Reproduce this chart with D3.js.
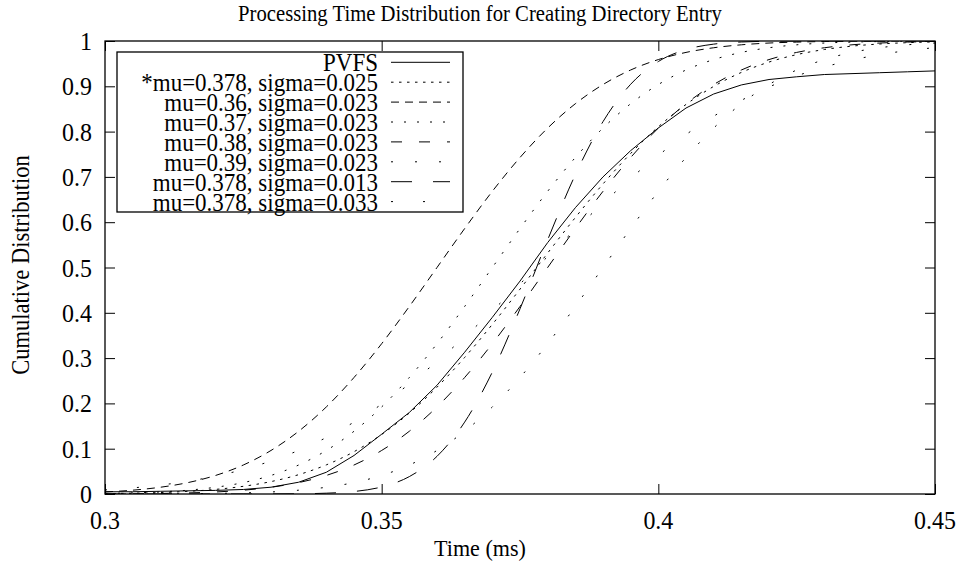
<!DOCTYPE html>
<html>
<head>
<meta charset="utf-8">
<script src="https://cdn.jsdelivr.net/npm/d3@7"></script>
<style>
  body { margin: 0; background: #fff; }
</style>
</head>
<body>
<div id="chart"></div>
<script>
// sample points on the time axis (ms)
var times = [0.300, 0.305, 0.310, 0.315, 0.320, 0.325, 0.330, 0.335, 0.340, 0.345,
             0.350, 0.355, 0.360, 0.365, 0.370, 0.375, 0.380, 0.385, 0.390, 0.395,
             0.400, 0.405, 0.410, 0.415, 0.420, 0.425, 0.430, 0.435, 0.440, 0.445, 0.450];

// measured PVFS distribution
var pvfs = [0.005, 0.005, 0.006, 0.007, 0.008, 0.010, 0.015, 0.026, 0.048, 0.085,
            0.132, 0.180, 0.240, 0.313, 0.390, 0.470, 0.555, 0.632, 0.700, 0.758,
            0.808, 0.852, 0.883, 0.903, 0.915, 0.921, 0.926, 0.928, 0.930, 0.932, 0.934];

// fitted curves
var fit378_025 = [0.0009, 0.0018, 0.0033, 0.0059, 0.0102, 0.0170, 0.0274, 0.0427, 0.0643, 0.0934,
                  0.1314, 0.1788, 0.2358, 0.3015, 0.3745, 0.4522, 0.5319, 0.6103, 0.6844, 0.7517,
                  0.8106, 0.8599, 0.8997, 0.9306, 0.9535, 0.9699, 0.9812, 0.9887, 0.9934, 0.9963, 0.9980];
var fit36_023 = [0.0045, 0.0084, 0.0149, 0.0252, 0.0410, 0.0640, 0.0961, 0.1385, 0.1922, 0.2572,
                 0.3318, 0.4140, 0.5000, 0.5860, 0.6682, 0.7428, 0.8078, 0.8615, 0.9039, 0.9360,
                 0.9590, 0.9748, 0.9851, 0.9916, 0.9955, 0.9976, 0.9988, 0.9994, 0.9997, 0.9999, 1.0000];
var fit37_023 = [0.0012, 0.0024, 0.0045, 0.0084, 0.0149, 0.0252, 0.0410, 0.0640, 0.0961, 0.1385,
                 0.1922, 0.2572, 0.3318, 0.4140, 0.5000, 0.5860, 0.6682, 0.7428, 0.8078, 0.8615,
                 0.9039, 0.9360, 0.9590, 0.9748, 0.9851, 0.9916, 0.9955, 0.9976, 0.9988, 0.9994, 0.9997];
var fit38_023 = [0.0003, 0.0006, 0.0012, 0.0024, 0.0045, 0.0084, 0.0149, 0.0252, 0.0410, 0.0640,
                 0.0961, 0.1385, 0.1922, 0.2572, 0.3318, 0.4140, 0.5000, 0.5860, 0.6682, 0.7428,
                 0.8078, 0.8615, 0.9039, 0.9360, 0.9590, 0.9748, 0.9851, 0.9916, 0.9955, 0.9976, 0.9988];
var fit39_023 = [0.0000, 0.0001, 0.0003, 0.0006, 0.0012, 0.0024, 0.0045, 0.0084, 0.0149, 0.0252,
                 0.0410, 0.0640, 0.0961, 0.1385, 0.1922, 0.2572, 0.3318, 0.4140, 0.5000, 0.5860,
                 0.6682, 0.7428, 0.8078, 0.8615, 0.9039, 0.9360, 0.9590, 0.9748, 0.9851, 0.9916, 0.9955];
var fit378_013 = [0.0000, 0.0000, 0.0000, 0.0000, 0.0000, 0.0000, 0.0001, 0.0005, 0.0018, 0.0055,
                  0.0156, 0.0384, 0.0831, 0.1587, 0.2692, 0.4088, 0.5612, 0.7048, 0.8220, 0.9045,
                  0.9547, 0.9811, 0.9931, 0.9978, 0.9994, 0.9998, 1.0000, 1.0000, 1.0000, 1.0000, 1.0000];
var fit378_033 = [0.0090, 0.0135, 0.0197, 0.0281, 0.0394, 0.0541, 0.0729, 0.0963, 0.1247, 0.1587,
                  0.1982, 0.2429, 0.2928, 0.3468, 0.4044, 0.4638, 0.5242, 0.5841, 0.6420, 0.6967,
                  0.7475, 0.7934, 0.8339, 0.8689, 0.8985, 0.9228, 0.9425, 0.9579, 0.9699, 0.9788, 0.9854];

var seriesNames = ["PVFS", "*mu=0.378, sigma=0.025", "mu=0.36, sigma=0.023", "mu=0.37, sigma=0.023",
                   "mu=0.38, sigma=0.023", "mu=0.39, sigma=0.023", "mu=0.378, sigma=0.013",
                   "mu=0.378, sigma=0.033"];
var seriesValues = [pvfs, fit378_025, fit36_023, fit37_023, fit38_023, fit39_023, fit378_013, fit378_033];

var xTicks = [0.3, 0.35, 0.4, 0.45];
var xTickLabels = ["0.3", "0.35", "0.4", "0.45"];
var yTicks = [0, 0.1, 0.2, 0.3, 0.4, 0.5, 0.6, 0.7, 0.8, 0.9, 1];
var yTickLabels = ["0", "0.1", "0.2", "0.3", "0.4", "0.5", "0.6", "0.7", "0.8", "0.9", "1"];

function init() {
    var w = 960, h = 564;
    var left = 105, right = 935, top = 41, bottom = 494;
    var sx = 0.92; // glyphs in the picture are a little narrow

    var dashes = [null, "2.5,5.5", "8,6", "2,11", "11,17", "2,22", "21,21", "2,30"];

    var x = d3.scaleLinear().domain([0.3, 0.45]).range([left, right]);
    var y = d3.scaleLinear().domain([0, 1]).range([bottom, top]);

    var svg = d3.select("#chart")
        .append("svg")
        .attr("width", w)
        .attr("height", h);

    svg.append("rect").attr("width", w).attr("height", h).attr("fill", "#fff");

    function label(px, py, str, size, anchor, rot) {
        return svg.append("text")
            .attr("transform", "translate(" + px + "," + py + ")" + (rot ? " rotate(" + rot + ")" : "") + " scale(" + sx + ",1)")
            .attr("text-anchor", anchor)
            .attr("font-family", "Liberation Serif")
            .attr("font-size", size)
            .attr("fill", "#000")
            .text(str);
    }

    // ticks on all four sides, pointing inwards
    var axes = [
        [d3.axisBottom(x).tickValues(xTicks).tickSize(-10).tickFormat(""), "translate(0," + bottom + ")"],
        [d3.axisTop(x).tickValues(xTicks).tickSize(-10).tickFormat(""), "translate(0," + top + ")"],
        [d3.axisLeft(y).tickValues(yTicks).tickSize(-10).tickFormat(""), "translate(" + left + ",0)"],
        [d3.axisRight(y).tickValues(yTicks).tickSize(-10).tickFormat(""), "translate(" + right + ",0)"]
    ];
    axes.forEach(function (a) {
        var g = svg.append("g").attr("transform", a[1]).call(a[0]);
        g.select(".domain").remove();
        g.selectAll("line").attr("stroke", "#000").attr("stroke-width", 1);
    });

    svg.append("rect")
        .attr("x", left).attr("y", top)
        .attr("width", right - left).attr("height", bottom - top)
        .attr("fill", "none").attr("stroke", "#000").attr("stroke-width", 1.3);

    // tick labels
    xTicks.forEach(function (t, i) {
        label(x(t), 529, xTickLabels[i], 26, "middle");
    });
    yTicks.forEach(function (t, i) {
        label(92, y(t) + 9, yTickLabels[i], 26, "end");
    });

    // titles
    label(480, 21, "Processing Time Distribution for Creating Directory Entry", 22.5, "middle");
    label(480, 556, "Time (ms)", 24, "middle");
    label(29, 265, "Cumulative Distribution", 24.5, "middle", -90);

    // curves
    svg.append("clipPath").attr("id", "plotclip")
        .append("rect")
        .attr("x", left).attr("y", top)
        .attr("width", right - left).attr("height", bottom - top);

    var lineLinear = d3.line()
        .x(function (d) { return x(d[0]); })
        .y(function (d) { return y(d[1]); });
    var lineSmooth = d3.line()
        .curve(d3.curveMonotoneX)
        .x(function (d) { return x(d[0]); })
        .y(function (d) { return y(d[1]); });

    var plot = svg.append("g").attr("clip-path", "url(#plotclip)");
    seriesValues.forEach(function (vals, i) {
        var pts = times.map(function (t, j) { return [t, vals[j]]; });
        plot.append("path")
            .attr("d", (i === 0 ? lineLinear : lineSmooth)(pts))
            .attr("fill", "none")
            .attr("stroke", "#000")
            .attr("stroke-width", 1)
            .attr("stroke-dasharray", dashes[i]);
    });

    // legend
    var keyX0 = 117, keyX1 = 463, keyY0 = 52, keyY1 = 212;
    var rowY = d3.scaleLinear().domain([0, 1]).range([62.3, 82.2]);
    svg.append("rect")
        .attr("x", keyX0).attr("y", keyY0)
        .attr("width", keyX1 - keyX0).attr("height", keyY1 - keyY0)
        .attr("fill", "none").attr("stroke", "#000").attr("stroke-width", 1.3);

    seriesNames.forEach(function (name, i) {
        var ry = rowY(i);
        label(378, ry + 9, name, 25, "end");
        svg.append("line")
            .attr("x1", 391).attr("x2", 450)
            .attr("y1", ry).attr("y2", ry)
            .attr("stroke", "#000").attr("stroke-width", 1)
            .attr("stroke-dasharray", dashes[i]);
    });
}

window.onload = init;
</script>
</body>
</html>
